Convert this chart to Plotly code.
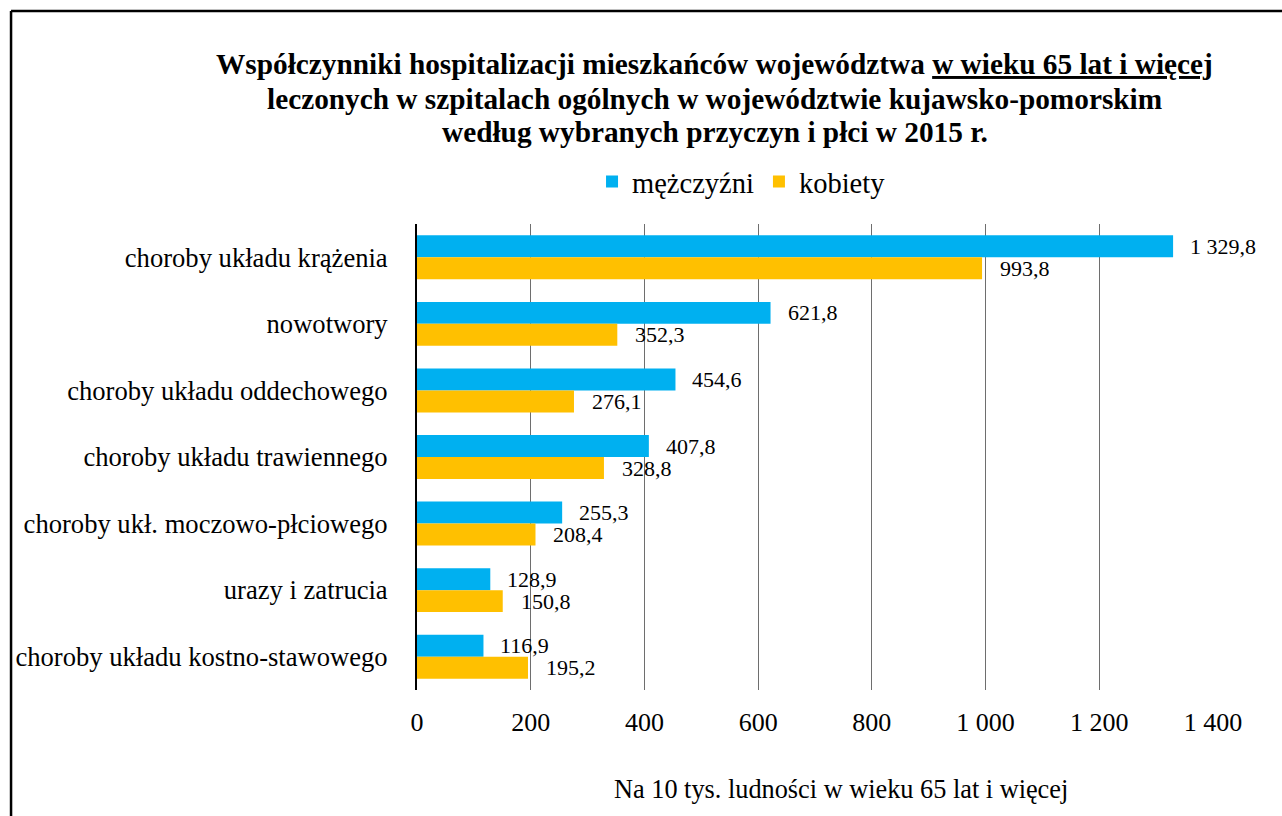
import plotly.graph_objects as go

categories = [
    "choroby układu krążenia",
    "nowotwory",
    "choroby układu oddechowego",
    "choroby układu trawiennego",
    "choroby ukł. moczowo-płciowego",
    "urazy i zatrucia",
    "choroby układu kostno-stawowego",
]
men = [1329.8, 621.8, 454.6, 407.8, 255.3, 128.9, 116.9]
women = [993.8, 352.3, 276.1, 328.8, 208.4, 150.8, 195.2]
series_names = ["mężczyźni", "kobiety"]
tick_values = [0, 200, 400, 600, 800, 1000, 1200, 1400]
title_lines = [
    "<b>Współczynniki hospitalizacji mieszkańców województwa <u>w wieku 65 lat i więcej</u></b>",
    "<b>leczonych w szpitalach ogólnych w województwie kujawsko-pomorskim</b>",
    "<b>według wybranych przyczyn i płci w 2015 r.</b>",
]
x_title = "Na 10 tys. ludności w wieku 65 lat i więcej"

FONT = "Liberation Serif, Times New Roman, serif"
BLUE = "#00B0F0"
GOLD = "#FFC000"


def fmt(v):
    s = f"{v:,.1f}"
    return s.replace(",", " ").replace(".", ",")


fig = go.Figure()
fig.add_trace(go.Bar(y=categories, x=men, name=series_names[0], orientation="h",
                     marker=dict(color=BLUE, line=dict(width=0))))
fig.add_trace(go.Bar(y=categories, x=women, name=series_names[1], orientation="h",
                     marker=dict(color=GOLD, line=dict(width=0))))

annotations = []
for c, v in zip(categories, men):
    annotations.append(dict(x=v, y=c, xref="x", yref="y", text=fmt(v), showarrow=False,
                            xanchor="left", yanchor="middle", xshift=15, yshift=11,
                            font=dict(family=FONT, size=22, color="black")))
for c, v in zip(categories, women):
    annotations.append(dict(x=v, y=c, xref="x", yref="y", text=fmt(v), showarrow=False,
                            xanchor="left", yanchor="middle", xshift=16, yshift=-11,
                            font=dict(family=FONT, size=22, color="black")))

title_y = [1.3434, 1.2683, 1.1975]
for t, yy in zip(title_lines, title_y):
    annotations.append(dict(x=0.374, y=yy, xref="paper", yref="paper", text=t, showarrow=False,
                            xanchor="center", yanchor="middle",
                            font=dict(family=FONT, size=29.3, color="black")))

annotations.append(dict(x=0.5327, y=-0.2125, xref="paper", yref="paper", text=x_title,
                        showarrow=False, xanchor="center", yanchor="middle",
                        font=dict(family=FONT, size=26.3, color="black")))

fig.update_layout(
    width=1282, height=816,
    margin=dict(l=417, r=69, t=224, b=126),
    paper_bgcolor="white", plot_bgcolor="white",
    separators=", ",
    barmode="group", bargap=0.34, bargroupgap=0,
    font=dict(family=FONT, color="black"),
    showlegend=True,
    legend=dict(orientation="h", x=0.4077, y=1.09, xanchor="center", yanchor="middle",
                font=dict(family=FONT, size=28.5, color="black"), traceorder="normal",
                itemwidth=30, bgcolor="rgba(0,0,0,0)"),
    annotations=annotations,
    shapes=[
        dict(type="line", xref="paper", yref="paper", x0=-0.510, x1=1.2, y0=1.457, y1=1.457,
             line=dict(color="black", width=2.5)),
        dict(type="line", xref="paper", yref="paper", x0=-0.510, x1=-0.510, y0=1.457, y1=-0.4,
             line=dict(color="black", width=2.5)),
    ],
)
fig.update_xaxes(range=[0, 1400], tickvals=tick_values, tickformat=",d",
                 showgrid=True, gridcolor="#6e6e6e", gridwidth=1.2,
                 zeroline=False, showline=False, ticks="",
                 ticklabelstandoff=14,
                 tickfont=dict(family=FONT, size=26, color="black"))
fig.update_yaxes(autorange="reversed", showgrid=False, zeroline=False,
                 showline=True, linecolor="black", linewidth=2, ticks="",
                 ticklabelstandoff=22,
                 tickfont=dict(family=FONT, size=26.6, color="black"))

fig.write_html("out.html", config={"displayModeBar": False},
               post_script="document.body.style.margin='0';document.body.style.overflow='hidden';")
